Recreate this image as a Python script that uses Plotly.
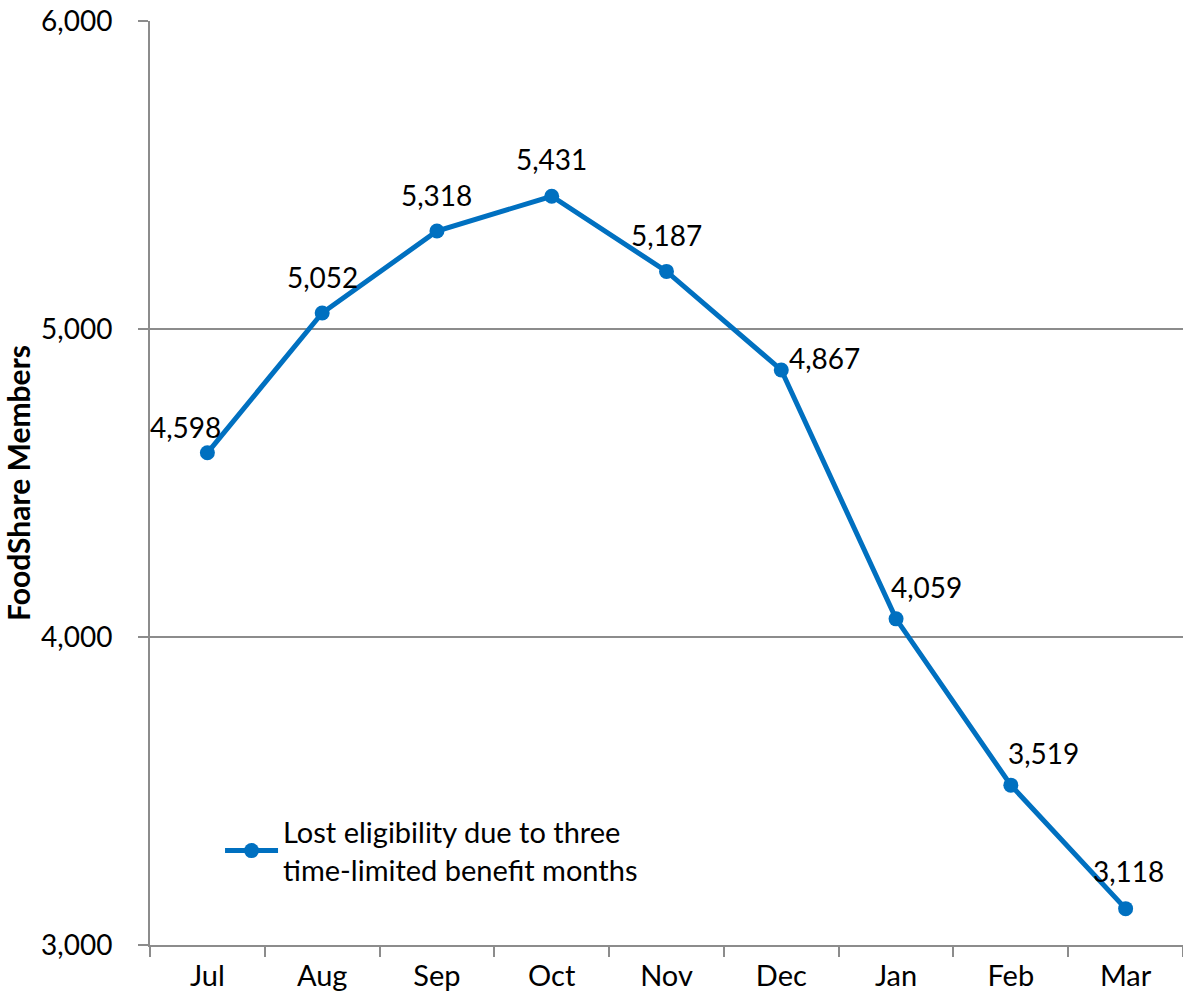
import plotly.graph_objects as go

# Monthly counts of members losing eligibility
months = ["Jul", "Aug", "Sep", "Oct", "Nov", "Dec", "Jan", "Feb", "Mar"]
members = [4598, 5052, 5318, 5431, 5187, 4867, 4059, 3519, 3118]
y_ticks = [3000, 4000, 5000, 6000]
series_name = "Lost eligibility due to three<br>time-limited benefit months"

# Label placement relative to each point (pixels: right, up)
label_dx = [-22, 0, 0, 0, 0, 43, 30, 33, 3]
label_dy = [26, 36, 36, 37, 36, 12, 32, 32, 38]

FONT = "Lato"
BLUE = "#0070C0"
GRID = "#8c8c8c"

fig = go.Figure()
fig.add_trace(go.Scatter(
    x=months, y=members, mode="lines+markers", name=series_name,
    line=dict(color=BLUE, width=5),
    marker=dict(color=BLUE, size=15),
))

for m, v, dx, dy in zip(months, members, label_dx, label_dy):
    fig.add_annotation(
        x=m, y=v, text=f"{v:,}", showarrow=False,
        xanchor="center", yanchor="middle",
        xshift=dx, yshift=dy,
        font=dict(family=FONT, size=28, color="#000000"),
    )

fig.update_layout(
    width=1183, height=995,
    margin=dict(l=150, r=0, t=21, b=50),
    paper_bgcolor="white", plot_bgcolor="white",
    font=dict(family=FONT, size=28, color="#000000"),
    showlegend=True,
    legend=dict(
        x=0.0678, y=0.15, xanchor="left", yanchor="top",
        bgcolor="rgba(0,0,0,0)", borderwidth=0,
        font=dict(family=FONT, size=29, color="#000000"),
        itemwidth=53,
    ),
    xaxis=dict(
        type="category", range=[-0.5, 8.5],
        showline=True, linecolor=GRID, linewidth=2,
        ticks="outside", tickson="boundaries", ticklen=10,
        tickcolor=GRID, tickwidth=2,
        showgrid=False, zeroline=False,
        tickfont=dict(family=FONT, size=29),
        ticklabelstandoff=4,
    ),
    yaxis=dict(
        range=[3000, 6000], tickvals=y_ticks, tickformat=",d",
        showline=True, linecolor=GRID, linewidth=2,
        ticks="outside", ticklen=10, tickcolor=GRID, tickwidth=2,
        showgrid=True, gridcolor=GRID, gridwidth=2,
        zeroline=False,
        tickfont=dict(family=FONT, size=28),
        ticklabelstandoff=20,
        title=dict(text="<b>FoodShare Members</b>",
                   font=dict(family=FONT, size=30), standoff=12),
    ),
)

fig.write_html("out.html")
